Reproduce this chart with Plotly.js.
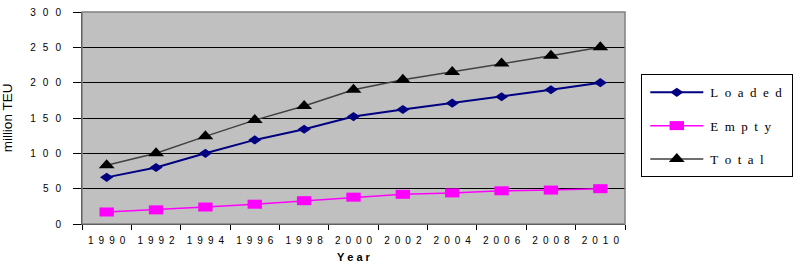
<!DOCTYPE html>
<html>
<head>
<meta charset="utf-8">
<script src="https://cdn.plot.ly/plotly-3.0.1.min.js"></script>
<style>
  html, body { margin: 0; padding: 0; background: #ffffff; }
  #chart { width: 804px; height: 278px; }
</style>
</head>
<body>
<div id="chart"></div>
<script>
// Container traffic, million TEU
const years = ['1990', '1992', '1994', '1996', '1998', '2000', '2002', '2004', '2006', '2008', '2010'];
const yearLabels = ['1 9 9 0', '1 9 9 2', '1 9 9 4', '1 9 9 6', '1 9 9 8', '2 0 0 0', '2 0 0 2', '2 0 0 4', '2 0 0 6', '2 0 0 8', '2 0 1 0'];
const loaded = [66, 80, 100, 119, 134, 152, 162, 171, 180, 190, 200];
const empty = [17, 20, 24, 28, 33, 38, 42, 44, 47, 48, 50];
const total = [83, 100, 124, 147, 167, 190, 204, 215, 227, 238, 250];
const yTickVals = [0, 50, 100, 150, 200, 250, 300];
const yTickText = ['0', '5 0', '1 0 0', '1 5 0', '2 0 0', '2 5 0', '3 0 0'];
const seriesNames = ['L o a d e d', 'E m p t y', 'T o t a l'];

// Wide letter spacing: en space between characters
const spaced = (s, sep) => s.split(' ').join(sep);

const traces = [
  {
    x: years, y: loaded, name: spaced(seriesNames[0], '\u2002'), type: 'scatter', mode: 'lines+markers',
    line: { color: '#000080', width: 2 },
    marker: { symbol: 'diamond', size: 7, color: '#000080' }
  },
  {
    x: years, y: empty, name: spaced(seriesNames[1], '\u2002'), type: 'scatter', mode: 'lines+markers',
    line: { color: '#ff00ff', width: 1.5 },
    marker: { symbol: 'square', size: 9, color: '#ff00ff' }
  },
  {
    x: years, y: total, name: spaced(seriesNames[2], '\u2002'), type: 'scatter', mode: 'lines+markers',
    line: { color: '#404040', width: 1.5 },
    marker: { symbol: 'triangle-up', size: 12, color: '#000000' }
  }
];
// horizontal stretch of each series' marker
const markerStretch = [1.45, 1.6, 1.15];

const layout = {
  width: 804,
  height: 278,
  margin: { l: 82, r: 179, t: 12, b: 54 },
  paper_bgcolor: '#ffffff',
  plot_bgcolor: '#c0c0c0',
  font: { family: 'Liberation Sans, Arial, sans-serif', color: '#000000', size: 10 },
  xaxis: {
    type: 'category',
    range: [-0.5, 10.5],
    tickvals: years,
    ticktext: yearLabels.map(s => spaced(s, '\u2002')),
    tickson: 'boundaries',
    ticks: 'outside',
    ticklen: 5,
    tickcolor: '#000000',
    ticklabelstandoff: 7,
    showgrid: false,
    showline: true,
    linecolor: '#000000',
    linewidth: 1,
    zeroline: false,
    tickfont: { size: 10 },
    title: {
      text: 'Y e a r',
      font: { size: 11, family: 'Liberation Sans, Arial, sans-serif', weight: 'bold' },
      standoff: 8
    }
  },
  yaxis: {
    range: [0, 300],
    tickvals: yTickVals,
    ticktext: yTickText.map(s => spaced(s, '\u2002\u2009')),
    ticks: 'outside',
    ticklen: 8,
    tickcolor: '#000000',
    ticklabelstandoff: 10,
    showgrid: true,
    gridcolor: '#000000',
    gridwidth: 1,
    showline: true,
    linecolor: '#000000',
    zeroline: false,
    tickfont: { size: 10 },
    title: {
      text: 'million TEU',
      font: { size: 13.5, family: 'Liberation Sans, Arial, sans-serif' },
      standoff: 17
    }
  },
  shapes: [
    {
      type: 'rect', xref: 'paper', yref: 'paper', x0: 0, x1: 1, y0: 0, y1: 1,
      line: { color: '#808080', width: 1.5 }, fillcolor: 'rgba(0,0,0,0)', layer: 'above'
    }
  ],
  showlegend: true,
  legend: {
    x: 1.03, xanchor: 'left',
    y: 0.706, yanchor: 'top',
    bgcolor: '#ffffff',
    bordercolor: '#000000',
    borderwidth: 1,
    font: { family: 'Liberation Serif, Times New Roman, serif', size: 13, color: '#000000' },
    tracegroupgap: 14
  }
};

// Legend geometry: box size, row pitch, sample line and text offsets
const legendBox = { w: 151, h: 102, firstRow: 18, rowPitch: 33.3, lineX: 9, lineLen: 53, textX: 69 };

function finishStyling(gd) {
  // stretch the data markers horizontally
  gd.querySelectorAll('.scatterlayer .trace').forEach((tr, i) => {
    tr.querySelectorAll('path.point').forEach(p => {
      const t = p.getAttribute('transform') || '';
      p.setAttribute('transform', t + ' scale(' + markerStretch[i] + ',1)');
    });
  });
  // legend: long sample lines with the marker centred on them
  const leg = gd.querySelector('.legend');
  if (!leg) return;
  const bg = leg.querySelector('rect.bg');
  if (bg) { bg.setAttribute('width', legendBox.w); bg.setAttribute('height', legendBox.h); }
  leg.removeAttribute('clip-path');
  leg.querySelectorAll('[clip-path]').forEach(el => el.removeAttribute('clip-path'));
  leg.querySelectorAll('g.groups').forEach(g => g.setAttribute('transform', 'translate(0,0)'));
  leg.querySelectorAll('g.traces').forEach((g, i) => {
    g.setAttribute('transform', 'translate(0,' + (legendBox.firstRow + i * legendBox.rowPitch) + ')');
    g.querySelectorAll('.legendlines path').forEach(p =>
      p.setAttribute('d', 'M' + legendBox.lineX + ',0h' + legendBox.lineLen));
    const cx = legendBox.lineX + legendBox.lineLen / 2;
    g.querySelectorAll('.legendpoints path').forEach(p =>
      p.setAttribute('transform', 'translate(' + cx + ',0) scale(' + markerStretch[i] + ',1)'));
    const t = g.querySelector('text.legendtext');
    if (t) t.setAttribute('x', legendBox.textX);
  });
}

Plotly.newPlot('chart', traces, layout, { displayModeBar: false, staticPlot: true })
  .then(gd => finishStyling(gd));
</script>
</body>
</html>
